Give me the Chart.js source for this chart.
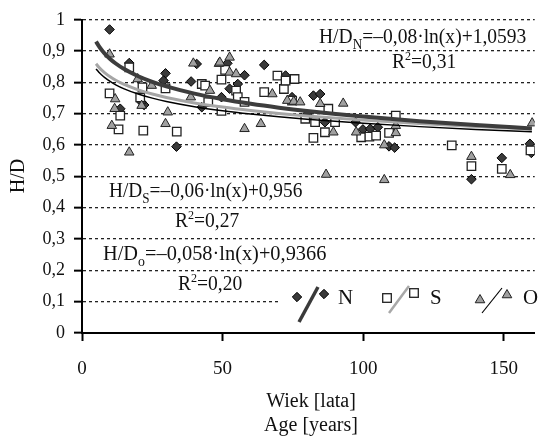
<!DOCTYPE html>
<html>
<head>
<meta charset="utf-8">
<script src="https://cdn.jsdelivr.net/npm/chart.js@4.4.1/dist/chart.umd.min.js"></script>
<style>
  body { margin: 0; background: #fff; }
  canvas { display: block; }
</style>
</head>
<body>
<canvas id="hdChart" width="542" height="436"></canvas>
<script>
// measured points, age [years] vs H/D
const ageN = [9.8, 16.8, 13.6, 22.1, 21.2, 29.7, 29.0, 33.6, 38.8, 40.8, 42.6, 49.6, 51.7, 52.5, 55.4, 57.8, 64.8, 72.4, 74.7, 82.3, 84.7, 80.0, 86.4, 97.3, 99.9, 102.5, 105.2, 109.2, 111.2, 138.5, 149.3, 159.3, 159.8];
const hdN = [0.969, 0.862, 0.716, 0.728, 0.737, 0.829, 0.806, 0.595, 0.803, 0.859, 0.721, 0.753, 0.861, 0.780, 0.795, 0.823, 0.856, 0.822, 0.753, 0.758, 0.763, 0.698, 0.673, 0.673, 0.650, 0.652, 0.657, 0.596, 0.592, 0.491, 0.559, 0.604, 0.575];

const ageS = [9.8, 13.6, 13.0, 16.8, 21.8, 21.5, 20.7, 29.7, 33.7, 42.6, 43.8, 44.9, 49.6, 49.6, 50.9, 54.8, 55.4, 57.8, 64.8, 69.5, 71.8, 72.4, 75.6, 74.7, 79.4, 82.9, 82.3, 86.4, 87.6, 90.0, 99.3, 102.2, 104.6, 109.2, 111.6, 131.5, 138.5, 149.3, 159.5];
const hdS = [0.765, 0.694, 0.650, 0.848, 0.646, 0.784, 0.752, 0.781, 0.643, 0.795, 0.790, 0.737, 0.809, 0.709, 0.840, 0.774, 0.753, 0.738, 0.769, 0.822, 0.779, 0.806, 0.811, 0.742, 0.684, 0.673, 0.623, 0.641, 0.716, 0.673, 0.625, 0.627, 0.630, 0.639, 0.694, 0.599, 0.533, 0.524, 0.583];

const ageO = [9.8, 10.6, 11.6, 11.8, 16.8, 19.8, 21.2, 24.8, 29.7, 30.5, 38.7, 39.6, 45.5, 48.7, 49.0, 52.5, 52.5, 54.8, 57.8, 63.6, 67.7, 73.0, 75.3, 77.6, 84.7, 86.8, 89.4, 92.9, 97.5, 107.5, 107.5, 111.6, 111.6, 138.5, 152.3, 160.1];
const hdO = [0.890, 0.662, 0.716, 0.747, 0.577, 0.811, 0.726, 0.790, 0.668, 0.705, 0.753, 0.861, 0.774, 0.860, 0.864, 0.880, 0.832, 0.827, 0.652, 0.668, 0.763, 0.742, 0.739, 0.737, 0.732, 0.506, 0.641, 0.733, 0.641, 0.600, 0.489, 0.639, 0.662, 0.563, 0.505, 0.670];

// fitted curves H/D = a*ln(x) + b, as printed on the chart (N, S, O)
const slopes = [-0.08, -0.06, -0.058];
const intercepts = [1.0593, 0.956, 0.9366];
const r2Labels = ["0,31", "0,27", "0,20"];
const trendAges = [5, 6, 7, 8, 10, 12, 15, 20, 25, 30, 40, 50, 60, 70, 80, 100, 120, 140, 160];

const xTicks = [0, 50, 100, 150];

const SERIF = "'Liberation Serif', 'Times New Roman', serif";

function points(xs, ys) {
    return xs.map((x, i) => ({ x: x, y: ys[i] }));
}

function trend(k) {
    return trendAges.map(x => ({ x: x, y: slopes[k] * Math.log(x) + intercepts[k] }));
}

// draws text with sub/superscripts, squeezed horizontally like the original
function richText(ctx, parts, x, y, size, sx) {
    ctx.save();
    ctx.translate(x, y);
    ctx.scale(sx, 1);
    ctx.fillStyle = "#111";
    ctx.textBaseline = "alphabetic";
    ctx.textAlign = "left";
    let cx = 0;
    parts.forEach(p => {
        let fs = size, dy = 0;
        if (p.sub) { fs = size * 0.68; dy = size * 0.28; }
        if (p.sup) { fs = size * 0.62; dy = -size * 0.38; }
        ctx.font = fs + "px " + SERIF;
        ctx.fillText(p.t, cx, dy);
        cx += ctx.measureText(p.t).width;
    });
    ctx.restore();
}

function diamond(ctx, x, y, r) {
    ctx.beginPath();
    ctx.moveTo(x, y - r); ctx.lineTo(x + r, y); ctx.lineTo(x, y + r); ctx.lineTo(x - r, y);
    ctx.closePath();
    ctx.fillStyle = "#3a3a3a"; ctx.fill();
    ctx.strokeStyle = "#000"; ctx.lineWidth = 1; ctx.stroke();
}
function square(ctx, x, y, h) {
    ctx.fillStyle = "#fff";
    ctx.fillRect(x - h, y - h, 2 * h, 2 * h);
    ctx.strokeStyle = "#222"; ctx.lineWidth = 1.3;
    ctx.strokeRect(x - h, y - h, 2 * h, 2 * h);
}
function triangle(ctx, x, y, r) {
    ctx.beginPath();
    ctx.moveTo(x, y - r); ctx.lineTo(x + r * 0.87, y + r * 0.5); ctx.lineTo(x - r * 0.87, y + r * 0.5);
    ctx.closePath();
    ctx.fillStyle = "#a0a0a0"; ctx.fill();
    ctx.strokeStyle = "#222"; ctx.lineWidth = 1; ctx.stroke();
}
function seg(ctx, x1, y1, x2, y2, color, w) {
    ctx.beginPath();
    ctx.moveTo(x1, y1); ctx.lineTo(x2, y2);
    ctx.strokeStyle = color; ctx.lineWidth = w; ctx.stroke();
}

const annotations = {
    id: "annotations",
    afterDraw(chart) {
        const ctx = chart.ctx;
        ctx.save();

        // legend box (hides the 0,1 grid line behind it)
        ctx.fillStyle = "#fff";
        ctx.fillRect(281, 284, 261, 36);
        diamond(ctx, 297, 297, 4.7);
        seg(ctx, 299, 322, 318, 287, "#3a3a3a", 3.5);
        diamond(ctx, 324, 294, 4.7);
        square(ctx, 387, 298, 4.3);
        seg(ctx, 389, 313, 409, 286, "#a8a8a8", 2.5);
        square(ctx, 414, 293, 4.3);
        triangle(ctx, 480, 300, 5.5);
        seg(ctx, 482, 313, 502, 288, "#000", 1.2);
        triangle(ctx, 507, 295, 5.5);
        richText(ctx, [{ t: "N" }], 338, 304, 22, 0.95);
        richText(ctx, [{ t: "S" }], 430, 304, 22, 0.95);
        richText(ctx, [{ t: "O" }], 523, 304, 22, 0.95);

        // regression equations
        richText(ctx, [{ t: "H/D" }, { t: "N", sub: true }, { t: "=\u20130,08\u00b7ln(x)+1,0593" }], 319, 43, 21, 0.93);
        richText(ctx, [{ t: "R" }, { t: "2", sup: true }, { t: "=" + r2Labels[0] }], 392, 68, 21, 0.93);
        richText(ctx, [{ t: "H/D" }, { t: "S", sub: true }, { t: "=\u20130,06\u00b7ln(x)+0,956" }], 109, 197, 21, 0.92);
        richText(ctx, [{ t: "R" }, { t: "2", sup: true }, { t: "=" + r2Labels[1] }], 175, 227, 21, 0.93);
        richText(ctx, [{ t: "H/D" }, { t: "o", sub: true }, { t: "=\u20130,058\u00b7ln(x)+0,9366" }], 103, 260, 21, 0.97);
        richText(ctx, [{ t: "R" }, { t: "2", sup: true }, { t: "=" + r2Labels[2] }], 178, 290, 21, 0.93);

        // axis titles
        ctx.fillStyle = "#111";
        ctx.font = "20px " + SERIF;
        ctx.textAlign = "center";
        ctx.textBaseline = "alphabetic";
        ctx.fillText("Wiek [lata]", 311, 407);
        ctx.fillText("Age [years]", 311, 431);
        ctx.translate(19, 176);
        ctx.rotate(-Math.PI / 2);
        ctx.textBaseline = "middle";
        ctx.fillText("H/D", 0, 0);
        ctx.restore();
    }
};

const chart = new Chart(document.getElementById("hdChart"), {
    type: "scatter",
    data: {
        datasets: [
            { label: "N trend", type: "line", data: trend(0), borderColor: "#3d3d3d", borderWidth: 4, pointRadius: 0, cubicInterpolationMode: "monotone", order: 0 },
            { label: "S trend", type: "line", data: trend(1), borderColor: "#a6a6a6", borderWidth: 3, pointRadius: 0, cubicInterpolationMode: "monotone", order: 0 },
            { label: "O trend", type: "line", data: trend(2), borderColor: "#000", borderWidth: 1.5, pointRadius: 0, cubicInterpolationMode: "monotone", order: 0 },
            { label: "O", data: points(ageO, hdO), pointStyle: "triangle", pointRadius: 5.5, backgroundColor: "#a0a0a0", borderColor: "#222", borderWidth: 1, order: 1 },
            { label: "S", data: points(ageS, hdS), pointStyle: "rect", pointRadius: 6, backgroundColor: "#fff", borderColor: "#222", borderWidth: 1.3, order: 1 },
            { label: "N", data: points(ageN, hdN), pointStyle: "rectRot", pointRadius: 4.8, backgroundColor: "#3a3a3a", borderColor: "#000", borderWidth: 1, order: 1 }
        ]
    },
    options: {
        responsive: false,
        animation: false,
        layout: { padding: { top: 19, right: 1, left: 0, bottom: 0 } },
        plugins: { legend: { display: false }, tooltip: { enabled: false } },
        scales: {
            x: {
                type: "linear",
                min: 0,
                max: 161,
                afterBuildTicks: s => { s.ticks = xTicks.map(v => ({ value: v })); },
                afterFit: s => { s.height = 103; },
                ticks: { color: "#111", font: { family: SERIF, size: 19 }, padding: 17, maxRotation: 0 },
                grid: { drawOnChartArea: false, drawTicks: true, tickLength: 8, tickColor: "#000", tickWidth: 2 },
                border: { color: "#000", width: 2 }
            },
            y: {
                min: 0,
                max: 1,
                afterFit: s => { s.width = 82; },
                ticks: {
                    stepSize: 0.1,
                    color: "#111",
                    font: { family: SERIF, size: 18 },
                    padding: 9,
                    callback: v => {
                        const r = Math.round(v * 10) / 10;
                        return (r === 0 || r === 1) ? String(r) : r.toFixed(1).replace(".", ",");
                    }
                },
                grid: {
                    color: c => (c.tick && Math.abs(c.tick.value) < 1e-6) ? "rgba(0,0,0,0)" : "#222",
                    lineWidth: 1.3,
                    drawTicks: true,
                    tickLength: 8,
                    tickColor: "#000",
                    tickWidth: 2
                },
                border: { color: "#000", width: 2, dash: [3, 3] }
            }
        }
    },
    plugins: [annotations]
});
</script>
</body>
</html>
